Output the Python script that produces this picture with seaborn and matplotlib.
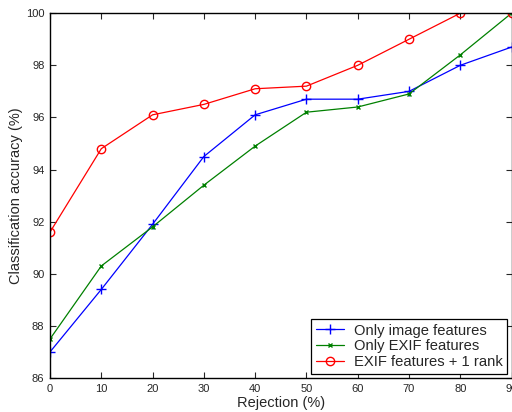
import pandas as pd
import matplotlib
matplotlib.use("Agg")
import matplotlib.pyplot as plt
import seaborn as sns

sns.set_style("ticks")
plt.rcParams['font.family'] = ['Liberation Sans', 'DejaVu Sans']

rejection = [0, 10, 20, 30, 40, 50, 60, 70, 80, 90]
image_only = [87.0, 89.4, 91.9, 94.5, 96.1, 96.7, 96.7, 97.0, 98.0, 98.7]
exif_only = [87.5, 90.3, 91.8, 93.4, 94.9, 96.2, 96.4, 96.9, 98.4, 100.0]
exif_rank = [91.6, 94.8, 96.1, 96.5, 97.1, 97.2, 98.0, 99.0, 100.0, 100.0]

labels = ["Only image features", "Only EXIF features", "EXIF features + 1 rank"]
colors = ["#0000ff", "#008000", "#ff0000"]
markers = ["+", "x", "o"]
msizes = [7, 3.5, 6]

fig = plt.figure(figsize=(5.12, 4.12), dpi=100)
ax = fig.add_axes([0.0977, 0.0825, 0.9015, 0.8855])

for vals, lab, c, m, ms in zip([image_only, exif_only, exif_rank], labels, colors, markers, msizes):
    df = pd.DataFrame({"x": rejection, "y": vals})
    sns.lineplot(data=df, x="x", y="y", ax=ax, color=c, marker=m, markersize=ms,
                 markerfacecolor="none", markeredgecolor=c, markeredgewidth=1.0,
                 linewidth=0.9, label=lab)

ax.set_xlim(0, 90)
ax.set_ylim(86, 100)
ax.set_xticks(range(0, 91, 10))
ax.set_yticks(range(86, 101, 2))
ax.tick_params(direction="in", top=True, right=True, labelsize=8, length=4, width=0.8, pad=4)
for s in ax.spines.values():
    s.set_visible(True)
    s.set_linewidth(1.0)
    s.set_color("black")
ax.set_xlabel("Rejection (%)", fontsize=10.5, labelpad=2)
ax.set_ylabel("Classification accuracy (%)", fontsize=10.5, labelpad=2)

leg = ax.legend(loc="lower right", fontsize=10.6, frameon=True, fancybox=False,
                edgecolor="black", framealpha=1, borderpad=0.3, labelspacing=0.12,
                handlelength=1.9, handletextpad=0.7, borderaxespad=0.3)
leg.get_frame().set_linewidth(0.9)

fig.savefig("out.png", dpi=100)
